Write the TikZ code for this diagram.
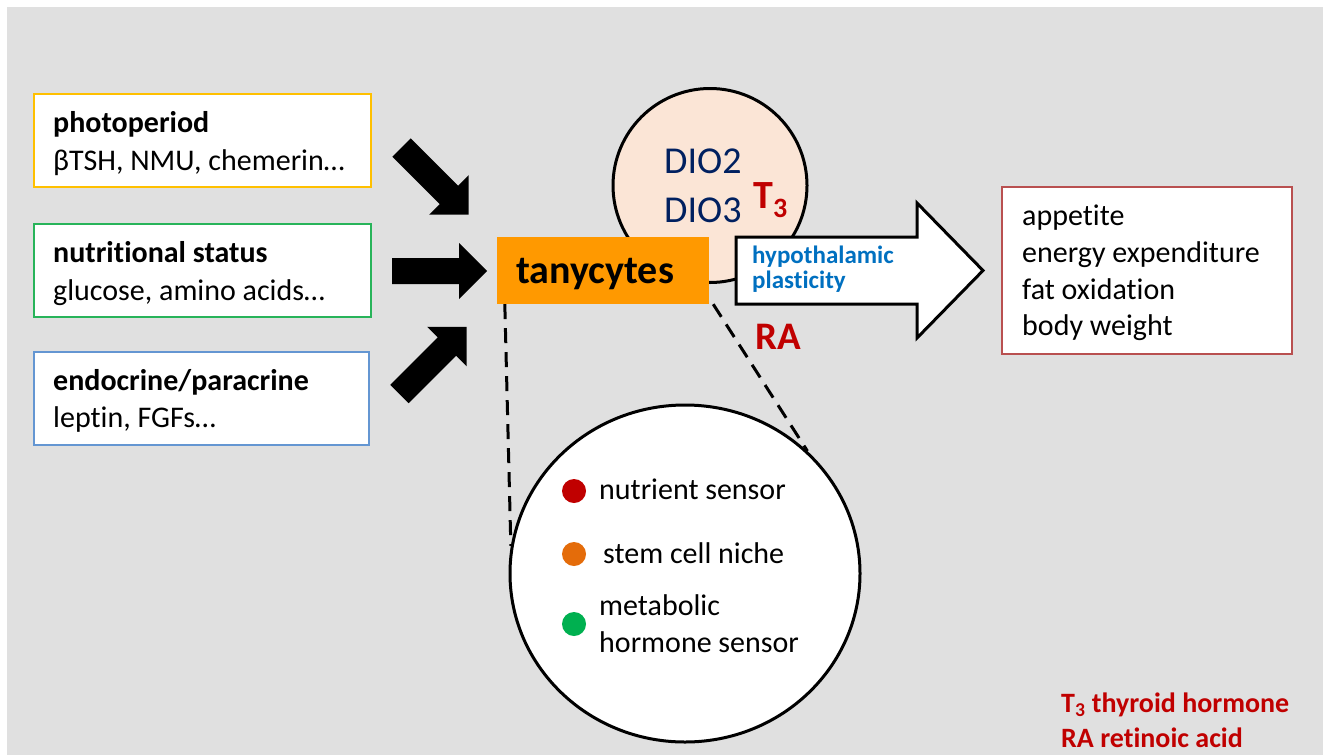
\documentclass[tikz,border=0pt]{standalone}
\usepackage{fontspec}
\setmainfont{Carlito}[Ligatures={NoCommon,NoContextual}]
\usetikzlibrary{shapes.geometric,calc}
\definecolor{bggray}{RGB}{224,224,224}
\definecolor{boxyellow}{RGB}{255,192,0}
\definecolor{boxgreen}{RGB}{40,180,90}
\definecolor{boxblue}{RGB}{100,150,210}
\definecolor{boxred}{RGB}{185,80,80}
\definecolor{tanyorange}{RGB}{255,153,0}
\definecolor{peach}{RGB}{251,229,214}
\definecolor{navy}{RGB}{0,32,96}
\definecolor{darkred}{RGB}{192,0,0}
\definecolor{textblue}{RGB}{0,112,192}
\definecolor{dotorange}{RGB}{228,108,10}
\definecolor{dotgreen}{RGB}{0,176,80}
\newcommand\blkarrow[3]{\fill[black,shift={(#1,#2)},rotate=#3] (0,-13) -- (67,-13) -- (67,-28) -- (95,0) -- (67,28) -- (67,13) -- (0,13) -- cycle;}
\begin{document}
\begin{tikzpicture}[x=1pt,y=-1pt,
  txt/.style={anchor=base west, inner sep=0pt, font=\fontsize{30}{36}\selectfont},
  btxt/.style={txt, font=\fontsize{30}{36}\selectfont\bfseries},
  inbox/.style={draw=#1, line width=2pt, fill=white, inner sep=0pt, minimum height=93pt},
  dashline/.style={line width=3pt, dash pattern=on 15pt off 9pt},
  dotnode/.style={circle, fill=#1, inner sep=0pt, minimum size=24pt}]
\useasboundingbox (0,0) rectangle (1329,755);
\fill[bggray] (7,7) rectangle (1323,755);

% input boxes
\node[inbox=boxyellow, minimum width=337pt] (photo) at (202.5,140.5) {};
\node[inbox=boxgreen, minimum width=337pt] (nutr) at (202.5,270.5) {};
\node[inbox=boxblue, minimum width=335pt] (endo) at (201.5,398.5) {};
\node[btxt] (photoT) at (53,132) {photoperiod};
\node[txt] (photoS) at (53,170) {βTSH, NMU, chemerin…};
\node[btxt] (nutrT) at (53,262) {nutritional status};
\node[txt] (nutrS) at (53,300) {glucose, amino acids…};
\node[btxt] (endoT) at (53,390) {endocrine/paracrine};
\node[txt] (endoS) at (53,427) {leptin, FGFs…};

% black arrows
\blkarrow{401.5}{147.5}{-45}
\blkarrow{392}{271}{0}
\blkarrow{399.5}{394}{45}

% DIO circle
\node[circle, draw, line width=3pt, fill=peach, minimum size=194pt, inner sep=0pt] (dio) at (710,185.5) {};
\node[txt, text=navy, font=\fontsize{38}{44}\selectfont] (dio2) at (664,173) {DIO2};
\node[txt, text=navy, font=\fontsize{38}{44}\selectfont] (dio3) at (664,222) {DIO3};
\node[txt, text=darkred, font=\fontsize{40}{46}\selectfont\bfseries] (t3) at (753,208) {T\textsubscript{3}};

% lower circle
\node[ellipse, draw, line width=3pt, fill=white, minimum width=350pt, minimum height=337pt, inner sep=0pt] (lowc) at (685,573.5) {};

% tanycytes
\node[fill=tanyorange, minimum width=212pt, minimum height=67pt, inner sep=0pt] (tany) at (603,270.5) {};
\node[txt, font=\fontsize{40}{46}\selectfont\bfseries] (tanyT) at (516,283) {tanycytes};

% dashed connectors
\draw[dashline] ($(tany.south west)+(8,0)$) -- (lowc.171);
\draw[dashline] ($(tany.south east)+(4,0)$) -- (lowc.45);

% big white arrow
\draw[line width=3pt, fill=white, line join=miter] (736,237) -- (917,237) -- (917,203) -- (983,270.5) -- (917,338) -- (917,304) -- (736,304) -- cycle;
\node[txt, text=textblue, font=\fontsize{25}{26}\selectfont\bfseries] (hyp1) at (752,263) {hypothalamic};
\node[txt, text=textblue, font=\fontsize{25}{26}\selectfont\bfseries] (hyp2) at (752,288) {plasticity};

\node[txt, text=darkred, font=\fontsize{39}{44}\selectfont\bfseries] (ra) at (755,349) {RA};

% output box
\node[draw=boxred, line width=2pt, fill=white, minimum width=290pt, minimum height=167pt, inner sep=0pt] (out) at (1147,270.5) {};
\node[txt] (o1) at (1022,225) {appetite};
\node[txt] (o2) at (1022,262) {energy expenditure};
\node[txt] (o3) at (1022,299) {fat oxidation};
\node[txt] (o4) at (1022,335) {body weight};

% lower circle contents
\node[dotnode=darkred] (d1) at (574,491) {};
\node[dotnode=dotorange] (d2) at (574,554) {};
\node[dotnode=dotgreen] (d3) at (574,624) {};
\node[txt] (l1) at (599,499) {nutrient sensor};
\node[txt] (l2) at (603,563) {stem cell niche};
\node[txt] (l3) at (599,615) {metabolic};
\node[txt] (l4) at (599,652) {hormone sensor};

% legend
\node[txt, text=darkred, font=\fontsize{28}{34}\selectfont\bfseries] (leg1) at (1061,712) {T\textsubscript{3} thyroid hormone};
\node[txt, text=darkred, font=\fontsize{28}{34}\selectfont\bfseries] (leg2) at (1061,747) {RA retinoic acid};
\end{tikzpicture}
\end{document}
